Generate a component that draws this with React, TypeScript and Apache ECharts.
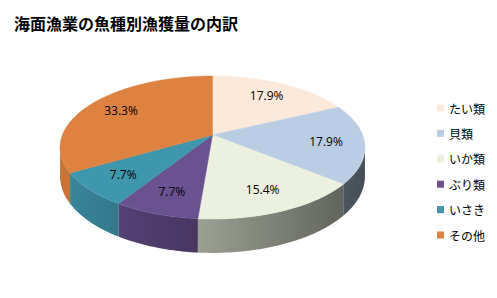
import React, { useEffect, useRef } from "react";
import * as echarts from "echarts";

const titleText = "海面漁業の魚種別漁獲量の内訳";
const categories = ["たい類", "貝類", "いか類", "ぶり類", "いさき", "その他"];
const values = [7, 7, 6, 3, 3, 13];
const colors = ["#fde9d9", "#b9cde5", "#ebf1de", "#6a5190", "#3f97ad", "#dd8240"];

// perspective geometry
const CX = 212.5;
const CY = 135;
const SX = 150.1;
const SY = 69.3;
const K = 0.1748;
const H = 28;

function proj(theta: number, r: number, drop: number): number[] {
  const x = r * Math.sin(theta);
  const z = r * Math.cos(theta);
  const d = 1 + K * z;
  return [CX + (SX * x) / d, CY - (SY * z) / d + drop / d];
}

function shade(hex: string, f: number): string {
  const n = parseInt(hex.slice(1), 16);
  const r = Math.round(((n >> 16) & 255) * f);
  const g = Math.round(((n >> 8) & 255) * f);
  const b = Math.round((n & 255) * f);
  return `rgb(${r},${g},${b})`;
}

function arc(a0: number, a1: number, drop: number): number[][] {
  const pts: number[][] = [];
  const steps = Math.max(2, Math.ceil(((a1 - a0) * 180) / Math.PI));
  for (let i = 0; i <= steps; i++) {
    pts.push(proj(a0 + ((a1 - a0) * i) / steps, 1, drop));
  }
  return pts;
}

export default function App() {
  const ref = useRef<HTMLDivElement>(null);
  useEffect(() => {
    if (!ref.current) return;
    const chart = echarts.init(ref.current, undefined, { renderer: "svg" });
    const total = values.reduce((a, b) => a + b, 0);
    const vis0 = Math.acos(-K);
    const vis1 = 2 * Math.PI - vis0;

    const renderItem = (params: any, api: any) => {
      const i = params.dataIndex;
      let before = 0;
      for (let j = 0; j < i; j++) before += values[j];
      const v = api.value(1);
      const a0 = (before / total) * 2 * Math.PI;
      const a1 = ((before + v) / total) * 2 * Math.PI;
      const col = colors[i];
      const children: any[] = [];
      const s = Math.max(a0, vis0);
      const e = Math.min(a1, vis1);
      if (e > s) {
        const top = arc(s, e, 0);
        const bot = arc(s, e, H).reverse();
        children.push({
          type: "polygon",
          shape: { points: top.concat(bot) },
          style: {
            fill: new echarts.graphic.LinearGradient(
              60, 0, 365, 0,
              [
                { offset: 0, color: shade(col, 0.9) },
                { offset: 1, color: shade(col, 0.38) },
              ],
              true
            ),
            stroke: null,
          },
          z2: 1,
        });
      }
      const topPts = [[CX, CY]].concat(arc(a0, a1, 0));
      children.push({
        type: "polygon",
        shape: { points: topPts },
        style: { fill: col, stroke: col, lineWidth: 0.5 },
        z2: 2,
      });
      const mid = (a0 + a1) / 2;
      const lp = proj(mid, 0.75, 0);
      children.push({
        type: "text",
        x: lp[0],
        y: lp[1],
        style: {
          text: ((v / total) * 100).toFixed(1) + "%",
          fill: "#000",
          fontSize: 12,
          fontFamily: "Open Sans",
          align: "center",
          verticalAlign: "middle",
        },
        z2: 3,
      });
      return { type: "group", children };
    };

    chart.setOption({
      animation: false,
      backgroundColor: "#fff",
      title: {
        text: titleText,
        left: 9,
        top: 10,
        textStyle: {
          fontSize: 16,
          fontWeight: "bold",
          color: "#000",
          fontFamily: "Noto Sans CJK JP",
        },
      },
      legend: {
        orient: "vertical",
        left: 432,
        top: 97,
        itemWidth: 7,
        itemHeight: 7,
        itemGap: 13.4,
        icon: "rect",
        data: categories,
        selectedMode: false,
        textStyle: { fontSize: 12, color: "#000", fontFamily: "Noto Sans CJK JP" },
      },
      series: [
        {
          type: "pie",
          radius: [0, 0],
          center: [-200, -200],
          silent: true,
          label: { show: false },
          labelLine: { show: false },
          data: categories.map((c, i) => ({
            name: c,
            value: values[i],
            itemStyle: { color: colors[i] },
          })),
        },
        {
          type: "custom",
          coordinateSystem: "none",
          silent: true,
          renderItem,
          data: categories.map((c, i) => ({ name: c, value: [i, values[i]] })),
        },
      ],
    });
    return () => chart.dispose();
  }, []);
  return (
    <div
      ref={ref}
      style={{ position: "fixed", left: 0, top: 0, width: 497, height: 298 }}
    />
  );
}
